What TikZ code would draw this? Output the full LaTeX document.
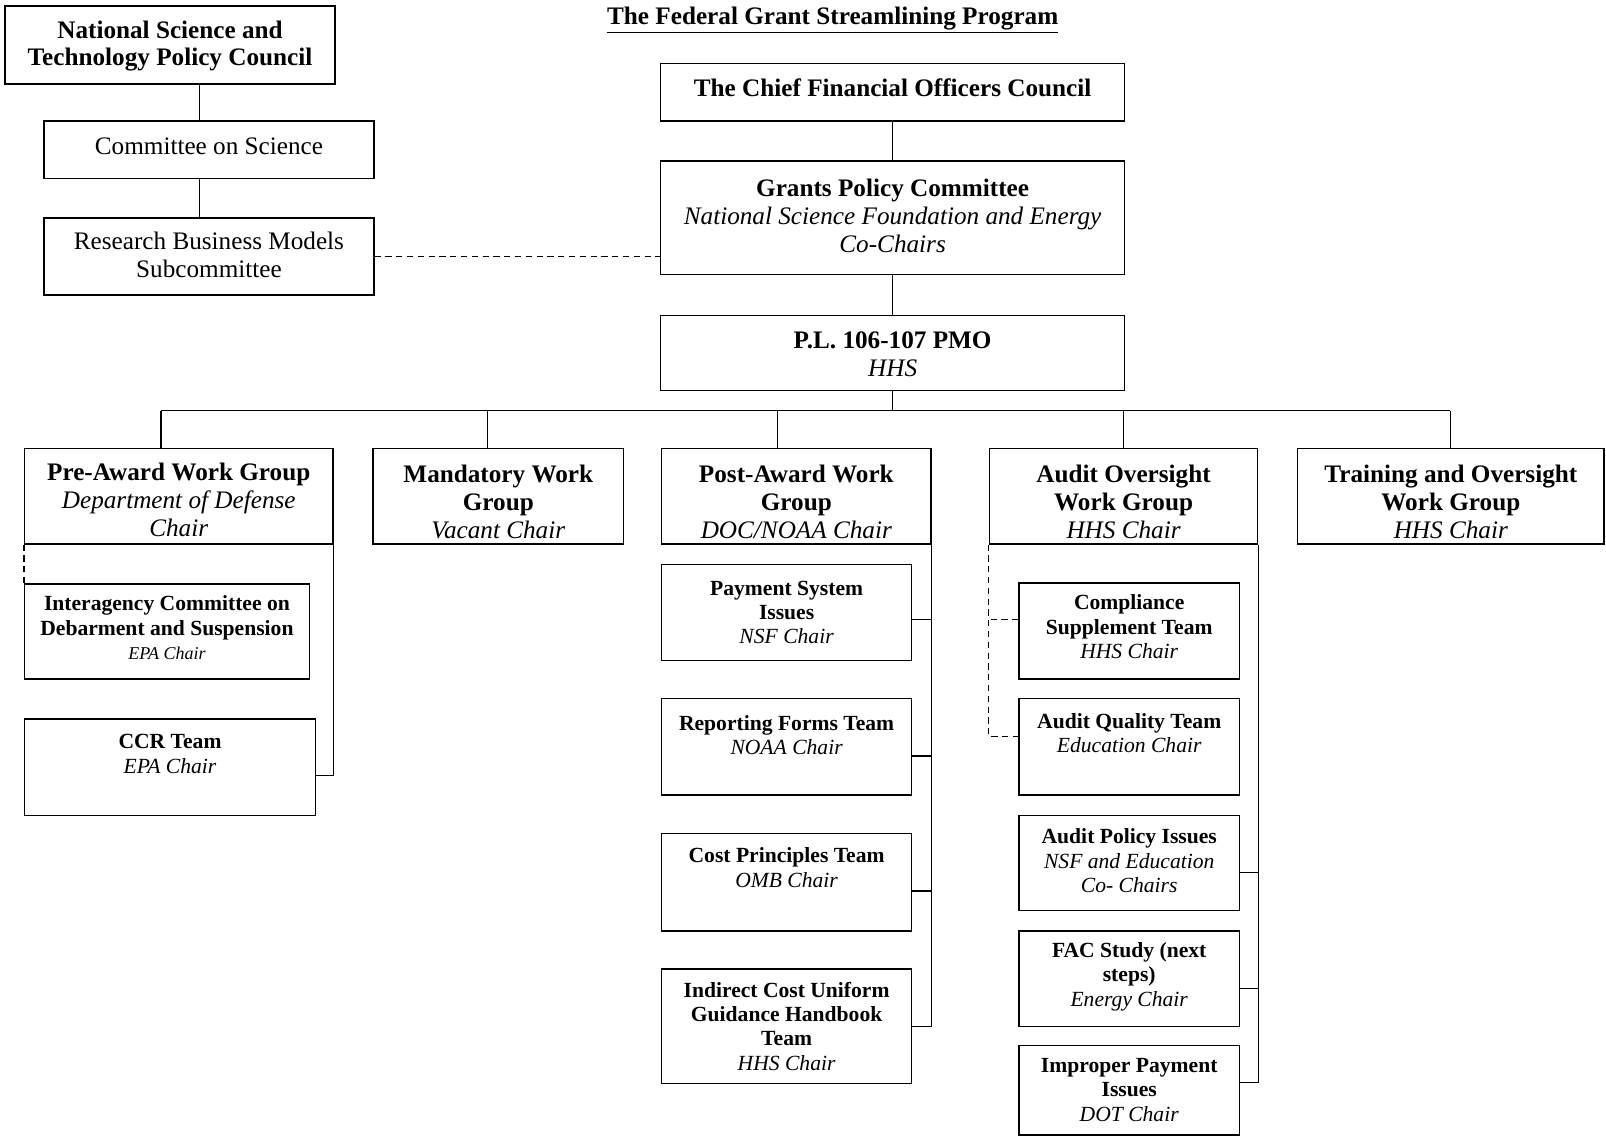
\documentclass[tikz,border=0pt]{standalone}
\usepackage{fontspec}
\setmainfont{Liberation Serif}
\begin{document}
\begin{tikzpicture}[x=0.02cm, y=-0.02cm,
    box/.style={draw, line width=0.8pt, inner sep=0pt},
    boxsize/.style 2 args={minimum width=#1*\px, minimum height=#2*\px},
    big/.style={align=center, inner sep=0pt, font=\fontsize{14}{15.5}\selectfont},
    small/.style={align=center, inner sep=0pt, font=\fontsize{12}{13.5}\selectfont},
    link/.style={line width=0.8pt},
    dlink/.style={line width=0.8pt, dash pattern=on 3.5pt off 2.5pt}]
    % Parameters
    \def\px{0.02cm}
    \useasboundingbox (0,0) rectangle (1568,1109);

    % Title
    \node[big] (title) at (813,20) {\textbf{\underline{The Federal Grant Streamlining Program}}};

    % Science council column
    \node[box, boxsize={322}{76}] (nstpc) at (166,44) {};
    \node[big] (nstpc-t) at (166,45) {\textbf{National Science and}\\\textbf{Technology Policy Council}};
    \node[box, boxsize={322}{56}] (cos) at (204,146) {};
    \node[big] (cos-t) at (204,143) {Committee on Science};
    \node[box, boxsize={322}{75}] (rbm) at (204,250.5) {};
    \node[big] (rbm-t) at (204,249) {Research Business Models\\Subcommittee};

    % CFO column
    \node[box, boxsize={453}{56}] (cfo) at (871.5,90) {};
    \node[big] (cfo-t) at (871.5,86) {\textbf{The Chief Financial Officers Council}};
    \node[box, boxsize={453}{111}] (gpc) at (871.5,212.5) {};
    \node[big] (gpc-t) at (871.5,211) {\textbf{Grants Policy Committee}\\\textit{National Science Foundation and Energy}\\\textit{Co-Chairs}};
    \node[box, boxsize={453}{73}] (pmo) at (871.5,344.5) {};
    \node[big] (pmo-t) at (871.5,346) {\textbf{P.L. 106-107 PMO}\\\textit{HHS}};

    % Work groups
    \node[box, boxsize={301}{93}] (pre) at (174.5,484.5) {};
    \node[big] (pre-t) at (174.5,488) {\textbf{Pre-Award Work Group}\\\textit{Department of Defense}\\\textit{Chair}};
    \node[box, boxsize={245}{93}] (mand) at (486.5,484.5) {};
    \node[big] (mand-t) at (486.5,490) {\textbf{Mandatory Work}\\\textbf{Group}\\\textit{Vacant Chair}};
    \node[box, boxsize={263}{93}] (post) at (777.5,484.5) {};
    \node[big] (post-t) at (777.5,490) {\textbf{Post-Award Work}\\\textbf{Group}\\\textit{DOC/NOAA Chair}};
    \node[box, boxsize={262}{93}] (audit) at (1097,484.5) {};
    \node[big] (audit-t) at (1097,490) {\textbf{Audit Oversight}\\\textbf{Work Group}\\\textit{HHS Chair}};
    \node[box, boxsize={299}{93}] (train) at (1416.5,484.5) {};
    \node[big] (train-t) at (1416.5,490) {\textbf{Training and Oversight}\\\textbf{Work Group}\\\textit{HHS Chair}};

    % Pre-award teams
    \node[box, boxsize={278}{93}] (iacds) at (163,616.5) {};
    \node[small] (iacds-t) at (163,613) {\textbf{Interagency Committee on}\\\textbf{Debarment and Suspension}\\{\fontsize{10}{12}\selectfont\textit{EPA Chair}}};
    \node[box, boxsize={284}{94}] (ccr) at (166,749) {};
    \node[small] (ccr-t) at (166,736) {\textbf{CCR Team}\\\textit{EPA Chair}};

    % Post-award teams
    \node[box, boxsize={244}{94}] (pay) at (768,598) {};
    \node[small] (pay-t) at (768,598) {\textbf{Payment System}\\\textbf{Issues}\\\textit{NSF Chair}};
    \node[box, boxsize={244}{94}] (rep) at (768,729) {};
    \node[small] (rep-t) at (768,718) {\textbf{Reporting Forms Team}\\\textit{NOAA Chair}};
    \node[box, boxsize={244}{95}] (cost) at (768,861.5) {};
    \node[small] (cost-t) at (768,847) {\textbf{Cost Principles Team}\\\textit{OMB Chair}};
    \node[box, boxsize={244}{112}] (ind) at (768,1002) {};
    \node[small] (ind-t) at (768,1002) {\textbf{Indirect Cost Uniform}\\\textbf{Guidance Handbook}\\\textbf{Team}\\\textit{HHS Chair}};

    % Audit teams
    \node[box, boxsize={215}{94}] (comp) at (1102.5,616) {};
    \node[small] (comp-t) at (1102.5,612) {\textbf{Compliance}\\\textbf{Supplement Team}\\\textit{HHS Chair}};
    \node[box, boxsize={215}{94}] (aq) at (1102.5,729) {};
    \node[small] (aq-t) at (1102.5,716) {\textbf{Audit Quality Team}\\\textit{Education Chair}};
    \node[box, boxsize={215}{93}] (api) at (1102.5,842.5) {};
    \node[small] (api-t) at (1102.5,840.5) {\textbf{Audit Policy Issues}\\\textit{NSF and Education}\\\textit{Co- Chairs}};
    \node[box, boxsize={215}{93}] (fac) at (1102.5,955.5) {};
    \node[small] (fac-t) at (1102.5,953.5) {\textbf{FAC Study (next}\\\textbf{steps)}\\\textit{Energy Chair}};
    \node[box, boxsize={215}{87}] (imp) at (1102.5,1064.5) {};
    \node[small] (imp-t) at (1102.5,1064) {\textbf{Improper Payment}\\\textbf{Issues}\\\textit{DOT Chair}};

    % Connectors, science column
    \coordinate (lx) at (195,0);
    \draw[link] (nstpc.south -| lx) -- (cos.north -| lx);
    \draw[link] (cos.south -| lx) -- (rbm.north -| lx);
    \draw[dlink] (rbm.east) -- (rbm.east -| gpc.west);

    % Connectors, CFO column
    \draw[link] (cfo) -- (gpc);
    \draw[link] (gpc) -- (pmo);
    \coordinate (busL) at (157,401);
    \coordinate (busR) at (1416,401);
    \draw[link] (pmo.south) -- (pmo.south |- busL);
    \draw[link] (busL) -- (busR);
    \foreach \x/\n in {157/pre, 476/mand, 759/post, 1097/audit, 1416/train} {
        \coordinate (drop) at (\x,401);
        \draw[link] (drop) -- (drop |- \n.north);
    }

    % Pre-award links
    \draw[dlink] (pre.south west) -- (iacds.north west);
    \draw[link] (pre.south east) |- ([yshift=-0.16cm]ccr.east);

    % Post-award links
    \draw[link] (post.south east) |- (ind.east);
    \foreach \n/\s in {pay/-0.14cm, rep/-0.18cm, cost/-0.17cm}
        \draw[link] ([yshift=\s]\n.east) -- ([yshift=\s]\n.east -| post.south east);

    % Audit links
    \draw[link] (audit.south east) |- ([yshift=0.15cm]imp.east);
    \foreach \n/\s in {api/-0.19cm, fac/-0.19cm}
        \draw[link] ([yshift=\s]\n.east) -- ([yshift=\s]\n.east -| audit.south east);
    \draw[dlink] (audit.south west) |- ([yshift=0.2cm]aq.west);
    \draw[dlink] ([yshift=0.22cm]comp.west) -- ([yshift=0.22cm]comp.west -| audit.south west);
\end{tikzpicture}
\end{document}
